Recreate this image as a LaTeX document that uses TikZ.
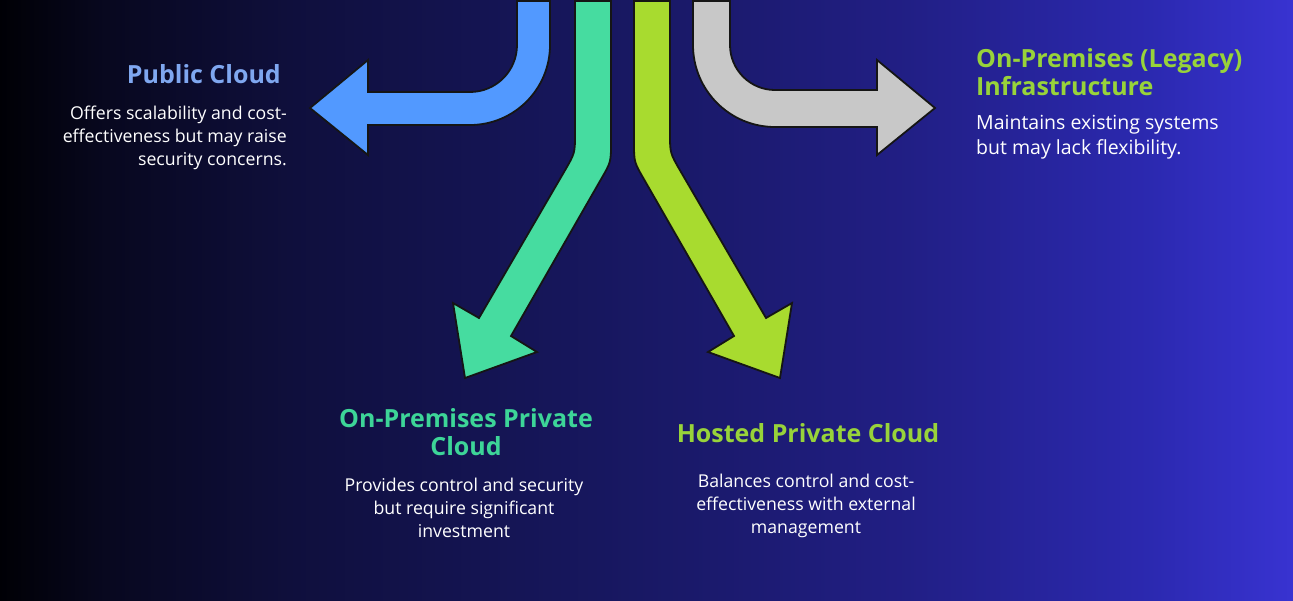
\documentclass[tikz,border=0pt]{standalone}
\usepackage{fontspec}
\setmainfont{Open Sans}
\pgfdeclarehorizontalshading{bgshade}{100bp}{rgb(0bp)=(0,0,0.02); rgb(25bp)=(0,0,0.02); rgb(29bp)=(0.03,0.03,0.12); rgb(36.5bp)=(0.06,0.06,0.24); rgb(48bp)=(0.09,0.09,0.37); rgb(60bp)=(0.13,0.12,0.52); rgb(69.5bp)=(0.17,0.16,0.69); rgb(75bp)=(0.22,0.20,0.82); rgb(100bp)=(0.22,0.20,0.82)}
\definecolor{arblue}{HTML}{5299FF}
\definecolor{arteal}{HTML}{46DCA0}
\definecolor{arlime}{HTML}{A8DB2F}
\definecolor{argrey}{HTML}{C8C8C8}
\definecolor{arline}{HTML}{151515}
\definecolor{pubtitle}{HTML}{7FA7F0}
\definecolor{tealtitle}{HTML}{3DD598}
\definecolor{limetitle}{HTML}{98D33A}
\begin{document}
\begin{tikzpicture}[x=1pt,y=-1pt,
  arrowshape/.style={draw=arline, line width=1.8pt, line join=miter},
  title/.style={font=\bfseries\fontsize{25}{28}\selectfont, inner sep=0pt},
  body/.style={text=white, font=\fontsize{17.7}{22.7}\selectfont, inner sep=0pt},
  bodybig/.style={text=white, font=\fontsize{19.5}{25}\selectfont, inner sep=0pt}]
\useasboundingbox (0,0) rectangle (1293,600);
\shade[shading=bgshade] (0,0) rectangle (1293,600);

% Public cloud arrow (blue)
\filldraw[arrowshape, fill=arblue] (517,1) -- (517,45) arc[start angle=0, end angle=90, radius=47]
  -- (368,92) -- (368,60) -- (310,108) -- (368,155) -- (368,125) -- (470,125)
  arc[start angle=90, end angle=0, radius=80] -- (550,1) -- cycle;
% Legacy arrow (grey)
\filldraw[arrowshape, fill=argrey] (693,1) -- (693,45) arc[start angle=180, end angle=90, radius=82]
  -- (877,127) -- (877,155) -- (935,108) -- (877,60) -- (877,90) -- (775,90)
  arc[start angle=90, end angle=180, radius=45] -- (730,1) -- cycle;
% On-premises private arrow (teal)
\filldraw[arrowshape, fill=arteal] (575,1) -- (575,133) .. controls (575,153) .. (565,170.3)
  -- (479,318) -- (453,303) -- (465,378) -- (537,352) -- (511,336) -- (601,179.3)
  .. controls (611,162) .. (611,142) -- (611,1) -- cycle;
% Hosted private arrow (lime)
\filldraw[arrowshape, fill=arlime] (670,1) -- (670,133) .. controls (670,153) .. (680,170.3)
  -- (766,318) -- (792,303) -- (780,378) -- (708,352) -- (734,336) -- (644,179.3)
  .. controls (634,162) .. (634,142) -- (634,1) -- cycle;

\node[title, text=pubtitle, anchor=base east] (pubT) at (281,83) {Public Cloud};
\node[body, align=right, anchor=base east] (pubB) at (287,165) {Offers scalability and cost-\\effectiveness but may raise\\security concerns.};
\node[title, text=limetitle, align=left, anchor=base west] (legT) at (976,95) {On-Premises (Legacy)\\Infrastructure};
\node[bodybig, align=left, anchor=base west] (legB) at (976,154) {Maintains existing systems\\but may lack flexibility.};
\node[title, text=tealtitle, align=center, anchor=base] (opT) at (466,455) {On-Premises Private\\Cloud};
\node[body, align=center, anchor=base] (opB) at (464,537) {Provides control and security\\but require significant\\investment};
\node[title, text=limetitle, anchor=base] (hpT) at (808,442) {Hosted Private Cloud};
\node[body, align=center, anchor=base] (hpB) at (806,533) {Balances control and cost-\\effectiveness with external\\management};
\end{tikzpicture}
\end{document}
